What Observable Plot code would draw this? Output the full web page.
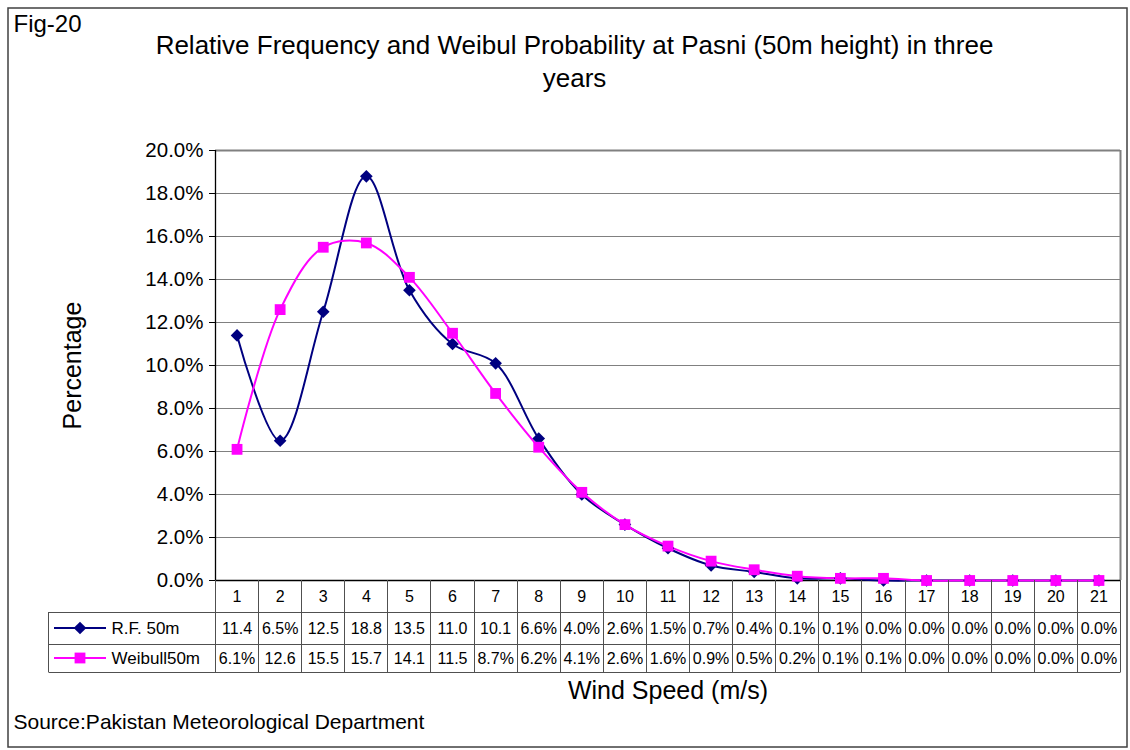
<!DOCTYPE html>
<html><head><meta charset="utf-8">
<script src="https://cdn.jsdelivr.net/npm/d3@7"></script>
<script src="https://cdn.jsdelivr.net/npm/@observablehq/plot@0.6"></script>
<style>
body{margin:0;background:#fff;}
svg{font-family:"Liberation Sans",Arial,sans-serif;}
</style>
</head><body><div id="chart"></div>
<script>
// ---- data ----
const windSpeed = [1,2,3,4,5,6,7,8,9,10,11,12,13,14,15,16,17,18,19,20,21];
const rf50 = [11.4,6.5,12.5,18.8,13.5,11.0,10.1,6.6,4.0,2.6,1.5,0.7,0.4,0.1,0.1,0.0,0.0,0.0,0.0,0.0,0.0];
const weibull50 = [6.1,12.6,15.5,15.7,14.1,11.5,8.7,6.2,4.1,2.6,1.6,0.9,0.5,0.2,0.1,0.1,0.0,0.0,0.0,0.0,0.0];
const seriesNames = ["R.F. 50m","Weibull50m"];
const yTicks = [0,2,4,6,8,10,12,14,16,18,20];
const titleLines = ["Relative Frequency and Weibul Probability at Pasni (50m height) in three","years"];
const figLabel = "Fig-20";
const sourceText = "Source:Pakistan Meteorological Department";
const yLabel = "Percentage";
const xLabel = "Wind Speed (m/s)";

const rows = windSpeed.map((w,i)=>({w, rf: rf50[i], wb: weibull50[i]}));
const boundaries = d3.range(0.5, 22, 1);

const NAVY = "#000080", MAG = "#FF00FF";
const W=1130, H=750, ML=215, MR=10, MT=150, MB=170;
const CX = (ML + (W - MR)) / 2;
const fmt = v => v >= 10 ? v.toFixed(1) : v.toFixed(1) + "%";
const diamond = d3.symbolDiamond2 || {draw(ctx,size){const r=Math.sqrt(size)*0.62625;ctx.moveTo(0,-r);ctx.lineTo(r,0);ctx.lineTo(0,r);ctx.lineTo(-r,0);ctx.closePath();}};
const txt = {fill:"#000", stroke:null, lineAnchor:"middle"};

const plot = Plot.plot({
  width: W, height: H,
  marginLeft: ML, marginRight: MR, marginTop: MT, marginBottom: MB,
  style: {fontFamily:"Liberation Sans, Arial, sans-serif", background:"#fff", overflow:"visible", color:"#000"},
  x: {domain:[0.5,21.5], axis:null},
  y: {domain:[0,20], axis:null},
  marks: [
    Plot.gridY(yTicks, {stroke:"#808080", strokeOpacity:1, strokeWidth:1}),
    Plot.axisY(yTicks, {tickFormat: d => d.toFixed(1)+"%", tickSize:6, tickPadding:6, fontSize:20.5, label:null, stroke:"#000"}),
    Plot.ruleY([20], {stroke:"#808080", strokeWidth:2}),
    Plot.ruleX([21.5], {stroke:"#808080", strokeWidth:2}),
    Plot.ruleX([0.5], {stroke:"#000", strokeWidth:1.3}),
    Plot.ruleY([0], {stroke:"#000", strokeWidth:1.3}),
    // category numbers (header row of data table)
    Plot.text(windSpeed, {x: d=>d, frameAnchor:"bottom", dy:16, fontSize:16, ...txt}),
    Plot.line(rows, {x:"w", y:"rf", stroke:NAVY, strokeWidth:2, curve:"catmull-rom"}),
    Plot.line(rows, {x:"w", y:"wb", stroke:MAG, strokeWidth:2, curve:"catmull-rom"}),
    Plot.dot(rows, {x:"w", y:"rf", symbol: diamond, fill:NAVY, stroke:null, r:5.7}),
    Plot.dot(rows, {x:"w", y:"wb", symbol:"square", fill:MAG, stroke:null, r:6.1}),
    // data table values
    Plot.text(rows, {x:"w", text: d=>fmt(d.rf), frameAnchor:"bottom", dy:48, fontSize:16, ...txt}),
    Plot.text(rows, {x:"w", text: d=>fmt(d.wb), frameAnchor:"bottom", dy:78, fontSize:16, ...txt}),
    Plot.text([seriesNames[0]], {frameAnchor:"bottom-left", dx:111-ML, dy:48, textAnchor:"start", fontSize:17, ...txt}),
    Plot.text([seriesNames[1]], {frameAnchor:"bottom-left", dx:111-ML, dy:78, textAnchor:"start", fontSize:17, ...txt}),
    // titles & labels
    Plot.text([titleLines[0]], {frameAnchor:"top", dx:574-CX, dy:45-MT, fontSize:26, ...txt}),
    Plot.text([titleLines[1]], {frameAnchor:"top", dx:574-CX, dy:78-MT, fontSize:26, ...txt}),
    Plot.text([figLabel], {frameAnchor:"top-left", dx:13-ML, dy:24-MT, textAnchor:"start", fontSize:24, ...txt}),
    Plot.text([sourceText], {frameAnchor:"bottom-left", dx:13-ML, dy:722-(H-MB), textAnchor:"start", fontSize:21, ...txt}),
    Plot.text([yLabel], {frameAnchor:"left", dx:72-ML, rotate:-90, textAnchor:"middle", fontSize:25, ...txt}),
    Plot.text([xLabel], {frameAnchor:"bottom", dy:690-(H-MB), fontSize:25, ...txt})
  ]
});

// table lines & legend samples, positioned with the plot's x scale
const sx = plot.scale("x");
const svg = d3.select(plot);
const g = svg.append("g").attr("stroke","#505050").attr("stroke-width",1).attr("fill","none");
const yAxis = H - MB, r1 = 612, r2 = 644, r3 = 672;
boundaries.forEach(b => {
  const x = Math.round(sx.apply(b)) + 0.5;
  g.append("line").attr("x1",x).attr("x2",x).attr("y1",yAxis).attr("y2",r3);
});
const xL = 48.5, xR = Math.round(sx.apply(21.5)) + 0.5;
[r1, r2, r3].forEach(y => g.append("line").attr("x1",xL).attr("x2",xR).attr("y1",y+0.5).attr("y2",y+0.5));
g.append("line").attr("x1",xL).attr("x2",xL).attr("y1",r1).attr("y2",r3);
// legend samples
const lg = svg.append("g");
lg.append("line").attr("x1",54).attr("x2",106).attr("y1",628).attr("y2",628).attr("stroke",NAVY).attr("stroke-width",2);
lg.append("path").attr("d", d3.symbol(diamond, 5.7*5.7*Math.PI)()).attr("transform","translate(80,628)").attr("fill",NAVY);
lg.append("line").attr("x1",54).attr("x2",106).attr("y1",658).attr("y2",658).attr("stroke",MAG).attr("stroke-width",2);
lg.append("path").attr("d", d3.symbol(d3.symbolSquare, 6.1*6.1*Math.PI)()).attr("transform","translate(80,658)").attr("fill",MAG);
// outer border
svg.append("rect").attr("x",8).attr("y",8).attr("width",1119).attr("height",739).attr("fill","none").attr("stroke","#404040").attr("stroke-width",1.5);

document.getElementById("chart").appendChild(plot);
</script>
</body></html>
